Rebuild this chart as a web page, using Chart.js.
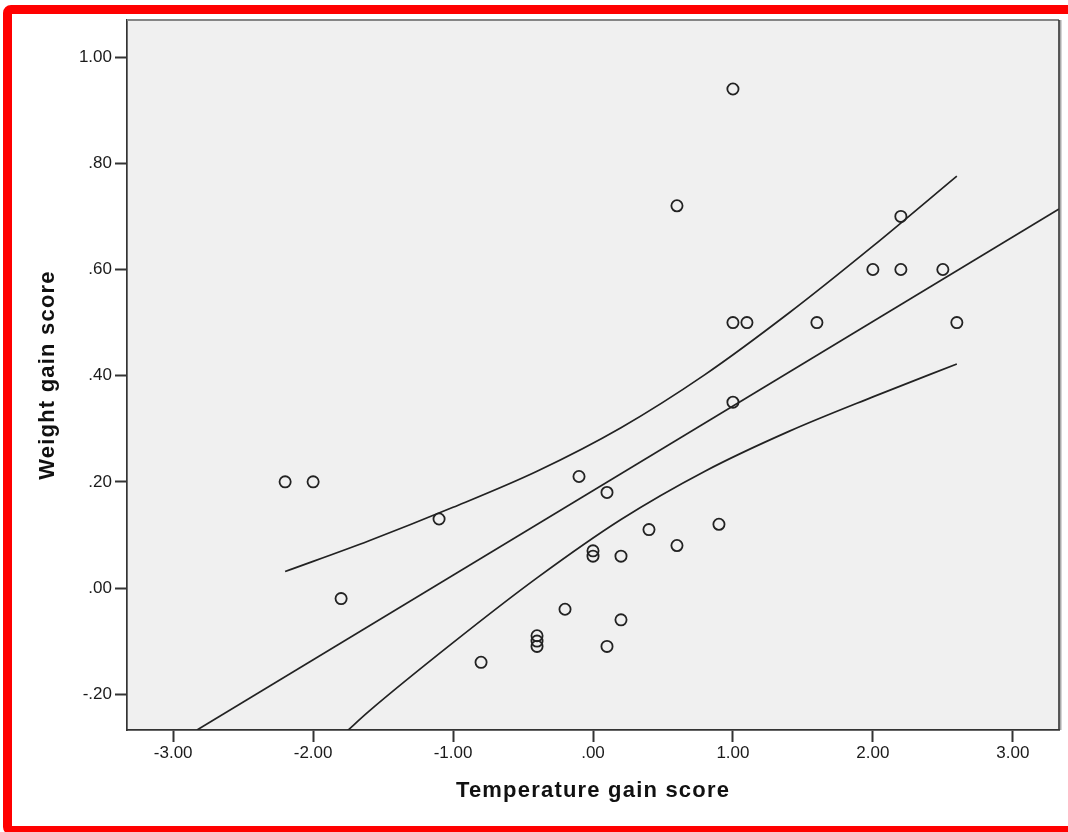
<!DOCTYPE html>
<html>
<head>
<meta charset="utf-8">
<script src="https://cdn.jsdelivr.net/npm/chart.js@4.4.0/dist/chart.umd.min.js"></script>
<style>
  html, body { margin: 0; padding: 0; background: #fff; overflow: hidden; }
  #wrap { position: relative; width: 1068px; height: 832px; }
  #frame { position: absolute; left: 3px; top: 5px; width: 1090px; height: 830px; box-sizing: border-box;
           border: 9px solid #ff0000; border-radius: 8px; pointer-events: none; }
  canvas { position: absolute; left: 0; top: 0; }
</style>
</head>
<body>
<div id="wrap">
  <canvas id="chart" width="1068" height="832"></canvas>
  <div id="frame"></div>
</div>
<script>
// observed cases
const tempGain   = [-2.2, -2.0, -1.8, -1.1, -0.8, -0.4, -0.4, -0.4, -0.2, -0.1, 0.0, 0.0, 0.1, 0.1, 0.2,
                    0.2, 0.4, 0.6, 0.6, 0.9, 1.0, 1.0, 1.0, 1.1, 1.6, 2.0, 2.2, 2.2, 2.5, 2.6];
const weightGain = [0.20, 0.20, -0.02, 0.13, -0.14, -0.09, -0.10, -0.11, -0.04, 0.21, 0.07, 0.06, 0.18, -0.11, 0.06,
                    -0.06, 0.11, 0.08, 0.72, 0.12, 0.94, 0.50, 0.35, 0.50, 0.50, 0.60, 0.70, 0.60, 0.60, 0.50];

// fit line (read at the plot edges)
const fitX = [-2.83, 3.33];
const fitY = [-0.2675, 0.714];

// mean confidence band
const upperX = [-2.2, -1.6, -1.0, -0.4, 0.2, 0.8, 1.4, 2.0, 2.6];
const upperY = [0.031, 0.089, 0.152, 0.220, 0.302, 0.402, 0.518, 0.644, 0.776];
const lowerX = [-1.76, -1.6, -1.0, -0.4, 0.2, 0.8, 1.4, 2.0, 2.6];
const lowerY = [-0.27, -0.232, -0.103, 0.019, 0.129, 0.220, 0.295, 0.360, 0.422];

// ticks
const xTicks = [-3, -2, -1, 0, 1, 2, 3];
const xTickLabels = ['-3.00', '-2.00', '-1.00', '.00', '1.00', '2.00', '3.00'];
const yTicks = [-0.2, 0, 0.2, 0.4, 0.6, 0.8, 1.0];
const yTickLabels = ['-.20', '.00', '.20', '.40', '.60', '.80', '1.00'];

const pairs = (xs, ys) => xs.map((x, i) => ({ x: x, y: ys[i] }));

const ink = '#222';
const fontFamily = "'Liberation Sans', Arial, sans-serif";

// grey plot background + frame
const plotFrame = {
    id: 'plotFrame',
    beforeDraw(chart) {
        const { ctx, chartArea: a } = chart;
        ctx.save();
        ctx.fillStyle = '#f0f0f0';
        ctx.fillRect(a.left, a.top, a.right - a.left, a.bottom - a.top);
        ctx.restore();
    },
    afterDraw(chart) {
        const { ctx, chartArea: a } = chart;
        ctx.save();
        ctx.lineWidth = 2;
        ctx.strokeStyle = '#858585';
        ctx.beginPath(); ctx.moveTo(a.left, a.top); ctx.lineTo(a.right, a.top); ctx.stroke();
        ctx.strokeStyle = '#aaa';
        ctx.beginPath(); ctx.moveTo(a.right + 1.5, a.top); ctx.lineTo(a.right + 1.5, a.bottom); ctx.stroke();
        ctx.strokeStyle = '#333';
        ctx.lineWidth = 1.6;
        ctx.beginPath(); ctx.moveTo(a.right, a.top); ctx.lineTo(a.right, a.bottom); ctx.stroke();
        ctx.restore();
    }
};

// SPSS axis titles are slightly letter-spaced
const titleSpacing = {
    id: 'titleSpacing',
    beforeDraw(chart) {
        ['x', 'y'].forEach(id => {
            const s = chart.scales[id];
            if (!s || s._spaced) return;
            const orig = s.drawTitle;
            s.drawTitle = function () {
                this.ctx.save();
                this.ctx.letterSpacing = '1.2px';
                orig.call(this);
                this.ctx.restore();
            };
            s._spaced = true;
        });
    }
};

const lineSet = (data) => ({
    data: data,
    showLine: true,
    borderColor: ink,
    borderWidth: 1.7,
    pointRadius: 0,
    pointHoverRadius: 0,
    cubicInterpolationMode: 'monotone',
    fill: false
});

new Chart(document.getElementById('chart').getContext('2d'), {
    type: 'scatter',
    data: {
        datasets: [
            {
                label: 'Cases',
                data: pairs(tempGain, weightGain),
                pointStyle: 'circle',
                pointRadius: 5.6,
                pointBorderWidth: 1.8,
                borderColor: ink,
                backgroundColor: 'rgba(0,0,0,0)',
                showLine: false
            },
            lineSet(pairs(fitX, fitY)),
            lineSet(pairs(upperX, upperY)),
            lineSet(pairs(lowerX, lowerY))
        ]
    },
    options: {
        responsive: false,
        animation: false,
        devicePixelRatio: 1,
        layout: { padding: { left: 0, top: 20, right: 9, bottom: 0 } },
        plugins: {
            legend: { display: false },
            tooltip: { enabled: false }
        },
        scales: {
            x: {
                type: 'linear',
                min: -3.33,
                max: 3.33,
                afterFit: (s) => { s.height = 102; },
                afterBuildTicks: (s) => { s.ticks = xTicks.map(v => ({ value: v })); },
                ticks: {
                    callback: (v, i) => xTickLabels[i],
                    color: '#1a1a1a',
                    font: { family: fontFamily, size: 17 },
                    padding: 1,
                    maxRotation: 0
                },
                grid: { drawOnChartArea: false, drawTicks: true, tickLength: 12, tickColor: '#333', tickWidth: 2 },
                border: { display: true, color: '#333', width: 1.7 },
                title: {
                    display: true,
                    text: 'Temperature gain score',
                    color: '#111',
                    font: { family: fontFamily, size: 22, weight: 'bold' },
                    padding: { top: 0, bottom: 28 }
                }
            },
            y: {
                type: 'linear',
                min: -0.2675,
                max: 1.07,
                afterFit: (s) => { s.width = 127; },
                afterBuildTicks: (s) => { s.ticks = yTicks.map(v => ({ value: v })); },
                ticks: {
                    callback: (v, i) => yTickLabels[i],
                    color: '#1a1a1a',
                    font: { family: fontFamily, size: 17 },
                    padding: 3
                },
                grid: { drawOnChartArea: false, drawTicks: true, tickLength: 12, tickColor: '#333', tickWidth: 2 },
                border: { display: true, color: '#333', width: 1.7 },
                title: {
                    display: true,
                    text: 'Weight gain score',
                    color: '#111',
                    font: { family: fontFamily, size: 22, weight: 'bold' },
                    padding: { top: 35, bottom: 0 }
                }
            }
        }
    },
    plugins: [plotFrame, titleSpacing]
});
</script>
</body>
</html>
